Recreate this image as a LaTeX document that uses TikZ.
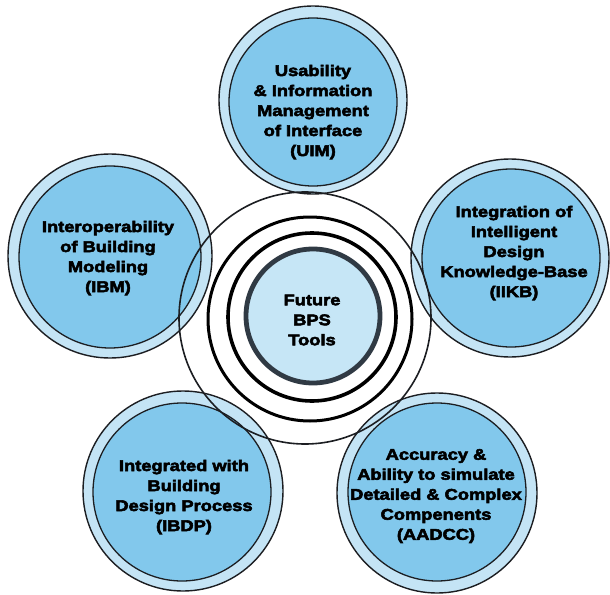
\documentclass[tikz,border=0pt]{standalone}
\usepackage{fontspec}
\setmainfont{Liberation Sans}
\newfontfamily\lab{Liberation Sans}[UprightFont={* Bold}, FakeStretch=1.18, FakeBold=3.5]
\definecolor{mainblue}{RGB}{130,200,236}
\definecolor{bandblue}{RGB}{196,228,245}
\definecolor{centerblue}{RGB}{198,230,246}
\definecolor{linec}{RGB}{28,30,34}
\definecolor{ringgray}{RGB}{48,58,68}
\tikzset{
  band/.style={fill=bandblue, draw=linec, line width=1.4pt},
  disk/.style={fill=mainblue, draw=linec, line width=1.3pt},
  lbl/.style={align=center, text=black, inner sep=0pt,
    font=\lab\fontsize{15.5pt}{20pt}\selectfont},
  thinring/.style={draw=linec, line width=1.6pt},
  thickring/.style={draw=black, line width=3.2pt}
}
\begin{document}
\begin{tikzpicture}[x=1pt,y=-1pt]
\useasboundingbox[fill=white] (0,0) rectangle (610,594);
% outer topic circles
\path[band] (313,100) circle[radius=94pt];
\path[disk] (313,102) circle[radius=84pt];
\node[lbl] (uim) at (313,112) {Usability\\\& Information\\Management\\of Interface\\(UIM)};

\path[band] (510,258) circle[radius=99pt];
\path[disk] (511,258) circle[radius=89pt];
\node[lbl] (iikb) at (514,253) {Integration of\\Intelligent\\Design\\Knowledge-Base\\(IIKB)};

\path[band] (437,493) circle[radius=100pt];
\path[disk] (437,492) circle[radius=89pt];
\node[lbl] (aadcc) at (436,496) {Accuracy \&\\Ability to simulate\\Detailed \& Complex\\Compenents\\(AADCC)};

\path[band] (183,491) circle[radius=100pt];
\path[disk] (182,492) circle[radius=89pt];
\node[lbl] (ibdp) at (184,497) {Integrated with\\Building\\Design Process\\(IBDP)};

\path[band] (110,256) circle[radius=102pt];
\path[disk] (110,257) circle[radius=91pt];
\node[lbl] (ibm) at (108,258) {Interoperability\\of Building\\Modeling\\(IBM)};

% central rings
\path[thinring] (305,318) circle[radius=126pt];
\path[thickring, line width=3pt] (310,319) circle[radius=102pt];
\path[thickring, line width=3.6pt] (312,317) circle[radius=84pt];
\path[fill=centerblue, draw=ringgray, line width=4.8pt] (313,316) circle[radius=67pt];
\node[lbl] (core) at (312,320) {Future\\BPS\\Tools};
\end{tikzpicture}
\end{document}
